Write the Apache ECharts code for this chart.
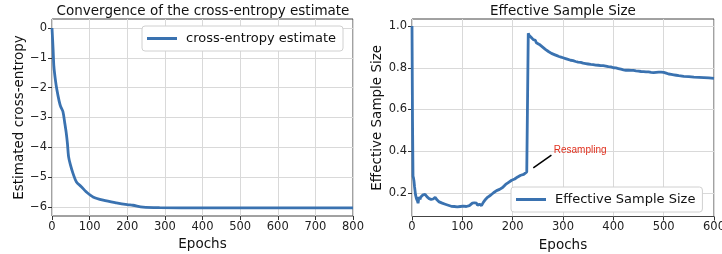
<!DOCTYPE html>
<html>
<head>
<meta charset="utf-8">
<script src="https://cdn.jsdelivr.net/npm/echarts@6/dist/echarts.min.js"></script>
<style>
  html, body { margin: 0; padding: 0; background: #fff; }
  #chart { width: 722px; height: 254px; }
</style>
</head>
<body>
<div id="chart"></div>
<script>
// cross-entropy estimate, [epoch, value]
const ceEpochs = [0, 3, 5, 9, 13, 19, 23, 29, 34, 38, 41, 44, 49, 56, 65, 78, 91, 109, 136, 171, 200, 215, 242, 286, 400, 600, 800];
const ceValues = [0, -0.73, -1.29, -1.74, -2.07, -2.45, -2.63, -2.8, -3.19, -3.53, -3.87, -4.31, -4.59, -4.88, -5.16, -5.32, -5.49, -5.66, -5.77, -5.86, -5.92, -5.94, -6.0, -6.02, -6.03, -6.03, -6.03];

// effective sample size, [epoch, value]
const essEpochs = [0, 1, 2, 3, 4, 5, 6, 7, 8, 9, 10, 11, 12, 13, 14, 15, 16, 17, 18, 20, 22, 24, 26, 28, 30, 32, 34, 36, 38, 40, 42, 44, 46, 48, 50, 52, 54, 57, 60, 63, 66, 69, 72, 75, 78, 81, 84, 87, 90, 93, 96, 99, 102, 105, 108, 111, 114, 117, 120, 122, 124, 126, 128, 130, 132, 134, 136, 138, 140, 142, 144, 146, 148, 150, 153, 156, 159, 162, 165, 168, 171, 174, 177, 180, 183, 186, 189, 192, 195, 198, 201, 204, 207, 210, 213, 216, 219, 222, 225, 228, 230, 231, 233, 235, 237, 239, 241, 243, 245, 247, 250, 253, 256, 259, 262, 265, 268, 271, 274, 277, 280, 284, 288, 292, 296, 300, 305, 310, 315, 320, 325, 330, 335, 340, 345, 350, 355, 360, 365, 370, 375, 380, 385, 390, 395, 400, 405, 410, 415, 420, 425, 430, 435, 440, 445, 450, 455, 460, 465, 470, 475, 480, 485, 490, 495, 500, 505, 510, 515, 520, 525, 530, 540, 550, 560, 570, 580, 590, 600];
const essValues = [1.0, 0.55, 0.28, 0.27, 0.255, 0.23, 0.21, 0.19, 0.18, 0.17, 0.175, 0.16, 0.15, 0.165, 0.18, 0.175, 0.168, 0.178, 0.172, 0.18, 0.19, 0.188, 0.192, 0.186, 0.18, 0.176, 0.172, 0.17, 0.168, 0.172, 0.17, 0.174, 0.178, 0.172, 0.165, 0.158, 0.156, 0.152, 0.15, 0.147, 0.145, 0.142, 0.14, 0.137, 0.135, 0.133, 0.134, 0.131, 0.132, 0.13, 0.134, 0.132, 0.136, 0.14, 0.134, 0.142, 0.138, 0.147, 0.15, 0.142, 0.152, 0.146, 0.15, 0.14, 0.148, 0.145, 0.15, 0.138, 0.134, 0.155, 0.162, 0.168, 0.172, 0.178, 0.182, 0.188, 0.196, 0.2, 0.203, 0.21, 0.208, 0.216, 0.22, 0.225, 0.232, 0.24, 0.246, 0.25, 0.255, 0.26, 0.258, 0.266, 0.272, 0.276, 0.28, 0.284, 0.29, 0.288, 0.295, 0.3, 0.3, 0.965, 0.955, 0.96, 0.945, 0.94, 0.935, 0.93, 0.932, 0.92, 0.917, 0.912, 0.905, 0.9, 0.895, 0.888, 0.884, 0.878, 0.874, 0.869, 0.866, 0.862, 0.858, 0.854, 0.851, 0.848, 0.844, 0.84, 0.836, 0.834, 0.83, 0.827, 0.826, 0.822, 0.82, 0.818, 0.816, 0.815, 0.813, 0.812, 0.81, 0.81, 0.808, 0.805, 0.804, 0.8, 0.799, 0.796, 0.793, 0.79, 0.788, 0.789, 0.787, 0.787, 0.785, 0.784, 0.782, 0.781, 0.78, 0.78, 0.778, 0.777, 0.778, 0.779, 0.779, 0.778, 0.774, 0.77, 0.768, 0.766, 0.764, 0.762, 0.759, 0.757, 0.755, 0.754, 0.753, 0.751, 0.749];

const ceTicks = [-6, -5, -4, -3, -2, -1, 0];
const essTicks = [0.2, 0.4, 0.6, 0.8, 1.0];

const annotFrom = [277, 0.381];
const annotTo = [241, 0.319];
const annotText = [334, 0.405];

const zip = (xs, ys) => xs.map((x, i) => [x, ys[i]]);

const FONT = 'DejaVu Sans';
const BLUE = '#3a72b0';
const GRIDLINE = { show: true, lineStyle: { color: '#d9d9d9', width: 1 } };
const TICK = { show: true, inside: false, length: 4, lineStyle: { color: '#333' } };
const LABEL = { color: '#222', fontFamily: FONT, fontSize: 11.5, margin: 5 };
const NAME = { color: '#111', fontFamily: FONT, fontSize: 13.5 };
const LEGEND = {
  icon: 'rect', itemWidth: 30, itemHeight: 3, padding: [6, 7, 6, 5],
  borderColor: '#d0d0d0', borderWidth: 1, borderRadius: 3, backgroundColor: '#fff',
  textStyle: { fontFamily: FONT, fontSize: 13, color: '#111', padding: [0, 0, 0, 4] }
};

function renderChart() {
  const chart = echarts.init(document.getElementById('chart'), null, { renderer: 'canvas' });
  const option = {
    animation: false,
    backgroundColor: '#fff',
    title: [
      { text: 'Convergence of the cross-entropy estimate', left: 198, top: -1, textAlign: 'center',
        textStyle: { fontFamily: FONT, fontWeight: 'normal', fontSize: 13.5, color: '#111' } },
      { text: 'Effective Sample Size', left: 558, top: -1, textAlign: 'center',
        textStyle: { fontFamily: FONT, fontWeight: 'normal', fontSize: 13.5, color: '#111' } }
    ],
    grid: [
      { left: 52, top: 19, width: 301, height: 197, outerBoundsMode: 'none', containLabel: false,
        show: true, borderColor: '#444', borderWidth: 1, backgroundColor: 'transparent' },
      { left: 412, top: 19, width: 302, height: 197.5, outerBoundsMode: 'none', containLabel: false,
        show: true, borderColor: '#444', borderWidth: 1, backgroundColor: 'transparent' }
    ],
    legend: [
      Object.assign({ data: ['cross-entropy estimate'], left: 142, top: 26 }, LEGEND),
      Object.assign({ data: ['Effective Sample Size'], left: 511, top: 187 }, LEGEND)
    ],
    xAxis: [
      { type: 'value', gridIndex: 0, min: 0, max: 800, interval: 100,
        name: 'Epochs', nameLocation: 'middle', nameGap: 20, nameTextStyle: NAME,
        axisLine: { show: false, onZero: false }, axisTick: TICK, axisLabel: LABEL, splitLine: GRIDLINE },
      { type: 'value', gridIndex: 1, min: 0, max: 600, interval: 100,
        name: 'Epochs', nameLocation: 'middle', nameGap: 20, nameTextStyle: NAME,
        axisLine: { show: false, onZero: false }, axisTick: TICK, axisLabel: LABEL, splitLine: GRIDLINE }
    ],
    yAxis: [
      { type: 'value', gridIndex: 0, min: -6.3, max: 0.3,
        name: 'Estimated cross-entropy', nameLocation: 'middle', nameGap: 24, nameTextStyle: NAME,
        axisLine: { show: false, onZero: false },
        axisTick: Object.assign({ customValues: ceTicks }, TICK),
        axisLabel: Object.assign({ customValues: ceTicks, formatter: v => String(v).replace('-', '\u2212') }, LABEL),
        splitLine: GRIDLINE },
      { type: 'value', gridIndex: 1, min: 0.086, max: 1.034,
        name: 'Effective Sample Size', nameLocation: 'middle', nameGap: 22, nameTextStyle: NAME,
        axisLine: { show: false, onZero: false },
        axisTick: Object.assign({ customValues: essTicks }, TICK),
        axisLabel: Object.assign({ customValues: essTicks, formatter: v => v.toFixed(1) }, LABEL),
        splitLine: GRIDLINE }
    ],
    series: [
      { name: 'cross-entropy estimate', type: 'line', xAxisIndex: 0, yAxisIndex: 0,
        data: zip(ceEpochs, ceValues), symbol: 'none', smooth: 0.3,
        itemStyle: { color: BLUE }, lineStyle: { color: BLUE, width: 2.8 } },
      { name: 'Effective Sample Size', type: 'line', xAxisIndex: 1, yAxisIndex: 1,
        data: zip(essEpochs, essValues), symbol: 'none',
        itemStyle: { color: BLUE }, lineStyle: { color: BLUE, width: 2.8 },
        markLine: {
          silent: true, symbol: ['none', 'arrow'], symbolSize: [0, 9],
          lineStyle: { color: '#000', width: 1.5, type: 'solid' }, label: { show: false },
          data: [[{ coord: annotFrom }, { coord: annotTo }]]
        },
        markPoint: {
          silent: true, symbol: 'circle', symbolSize: 0,
          label: { show: true, position: 'inside', formatter: 'Resampling', color: '#e0301e',
            fontFamily: 'Liberation Sans', fontSize: 10 },
          data: [{ coord: annotText }]
        } }
    ]
  };
  chart.setOption(option, true);
}
renderChart();
</script>
</body>
</html>
